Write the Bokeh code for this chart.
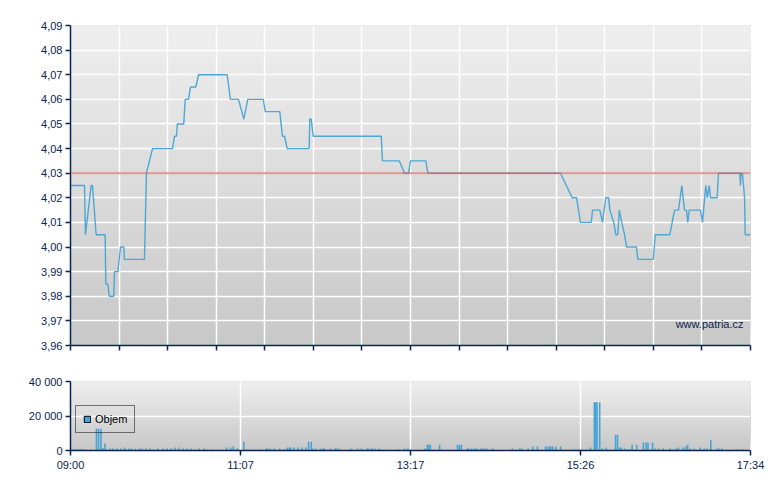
import numpy as np
from bokeh.plotting import figure
from bokeh.models import (Range1d, FixedTicker, Span, BoxAnnotation, CustomJSTickFormatter,
                          Label, Legend, LegendItem, ColumnDataSource)
from bokeh.layouts import column
from bokeh.embed import file_html
from bokeh.resources import INLINE

# ---------------- data ----------------
# minutes since 09:00
time_start, time_end = 0, 514
time_labels = ["09:00", "11:07", "13:17", "15:26", "17:34"]
reference_price = 4.03
price_ticks = [3.96, 3.97, 3.98, 3.99, 4.00, 4.01, 4.02, 4.03, 4.04, 4.05, 4.06, 4.07, 4.08, 4.09]
volume_ticks = [0, 20000, 40000]

price_minutes = [0, 10.6, 11.3, 15.6, 16.6, 19.4, 26.2, 26.7, 28.2, 29.3, 32.7, 33.3, 35.8, 37.8,
                 40.3, 40.8, 55.9, 57.4, 62.0, 77.1, 78.6, 80.1, 80.7, 85.6, 86.7, 89.2, 90.7,
                 94.7, 96.8, 118.4, 120.9, 127.0, 131.0, 134.0, 145.7, 147.2, 158.2, 160.2, 161.8,
                 163.8, 180.4, 180.9, 181.9, 183.5, 234.9, 235.8, 248.5, 252.5, 255.5, 257.0,
                 268.6, 270.1, 370.4, 379.2, 382.5, 385.5, 393.6, 394.6, 400.1, 402.1, 404.6,
                 406.7, 407.7, 410.7, 412.2, 413.7, 414.8, 416.7, 418.8, 420.3, 427.8, 428.8,
                 440.5, 442.0, 453.0, 456.6, 459.6, 462.1, 464.1, 465.6, 466.6, 467.7, 476.2,
                 477.7, 480.2, 481.3, 482.8, 483.8, 488.8, 489.8, 505.9, 506.4, 506.9, 507.9,
                 509.5, 510.0, 514]
price_values = [4.025, 4.025, 4.005, 4.025, 4.025, 4.005, 4.005, 3.985, 3.985, 3.98, 3.98, 3.99, 3.99, 4.00,
                4.00, 3.995, 3.995, 4.03, 4.04, 4.04, 4.045, 4.045, 4.05, 4.05, 4.06, 4.06, 4.065,
                4.065, 4.07, 4.07, 4.06, 4.06, 4.052, 4.06, 4.06, 4.055, 4.055, 4.045, 4.045,
                4.04, 4.04, 4.052, 4.052, 4.045, 4.045, 4.035, 4.035, 4.03, 4.03, 4.035,
                4.035, 4.03, 4.03, 4.02, 4.02, 4.01, 4.01, 4.015, 4.015, 4.01, 4.02,
                4.02, 4.015, 4.01, 4.005, 4.005, 4.015, 4.01, 4.005, 4.00, 4.00, 3.995,
                3.995, 4.005, 4.005, 4.015, 4.015, 4.025, 4.015, 4.015, 4.01, 4.015, 4.015,
                4.01, 4.025, 4.02, 4.025, 4.02, 4.02, 4.03, 4.03, 4.025, 4.03, 4.03,
                4.02, 4.005, 4.005]

volume_minutes = [0, 1, 2, 3, 4, 5, 6, 7, 8, 9, 10, 11, 15, 19.6, 21.2, 23, 24.5, 26, 27, 30, 32, 35,
                  38, 41, 44, 46, 49, 52, 54, 57, 60, 63, 66, 70, 73, 76, 79, 82, 85, 88, 91, 94, 97,
                  101, 103, 107, 112, 118, 121, 123, 126,
                  131, 134, 137.5, 139.5, 143, 145, 148, 149, 151, 154, 158, 161, 162, 164, 165.5,
                  166.5, 169, 172, 175, 178, 180, 182, 183, 185, 189, 191, 192, 196.5, 200, 201, 203,
                  212, 217, 220, 224, 225, 227, 228, 230, 233, 235, 240, 247, 248, 252.5, 255,
                  257, 268, 269.7, 270.7, 272, 279, 292.5, 294, 295.5, 300, 301, 303, 305, 306, 307.5,
                  310, 311.5, 313, 314.5, 319, 334, 339.5, 341, 346, 349.5, 353, 359, 360.5, 362, 363,
                  364.5, 367, 370.5, 379.5, 381, 382.5, 384.5,
                  386, 388, 390.5, 393, 396, 397, 398, 400, 402, 405, 410, 412, 413.5, 415, 416.5, 419,
                  421, 423, 424.5, 428, 433, 435, 436.5, 440, 442, 444.5, 448, 453, 455, 457.5, 459.5,
                  463, 465, 466.5, 468.5, 471.5, 476, 479, 481, 484, 489, 490.5, 492.5, 501, 503.5,
                  506, 508.5]
volume_values = [600, 600, 600, 600, 600, 600, 600, 600, 600, 600, 600, 600, 500, 12600, 12600, 12600,
                 1500, 4000, 500, 1100, 1100, 1100, 1100, 1700, 1100, 1100, 1000, 1100, 1100, 1100,
                 1100, 600, 1100, 1100, 1100, 1100, 1700, 1700, 1100, 1100, 1100, 600, 1100, 1100,
                 600, 600, 600, 1700, 1700, 2300, 1100,
                 5100, 600, 600, 600, 600, 600, 1100, 1100, 1100, 1100, 1100, 600, 600, 1700, 1700,
                 1700, 1700, 1700, 1700, 1700, 5100, 5100, 1100, 1100, 1100, 1100, 1100, 1100, 1100,
                 1100, 1100, 1100, 1100, 1100, 1100, 1100, 1100, 1100, 1100, 1100, 600, 600, 600,
                 600, 1100, 1100,
                 600, 1100, 3400, 3400, 3400, 3400, 3400, 3400, 3400, 1100, 1100, 1100, 1100, 1100,
                 1100, 1100, 1100, 1100, 1100, 1100, 1100, 1100, 1100, 1100, 2300, 2300, 2300, 2300,
                 2300, 2300, 2300, 2300, 2300, 600, 600, 600, 600,
                 600, 600, 600, 1700, 28000, 28000, 28000, 28000, 1100, 1700, 600, 9100, 9100, 1700,
                 1700, 1100, 600, 600, 3400, 3400, 4600, 4600, 4600, 4600, 1100, 1100, 1100, 1100,
                 600, 1100, 1700, 1700, 2300, 3400, 1100, 1100, 1700, 1100, 1100, 6300, 1100, 1100,
                 1100, 600, 600, 600, 600]

# ---------------- style ----------------
NAVY = "#0c2452"
BLUE = "#47a3d5"
FONT = "Liberation Sans"
TOP_GRAY = (239, 239, 239)
BOTTOM_GRAY = (200, 200, 200)


def add_gradient(p, y0, y1, n=48):
    for i in range(n):
        t = i / n
        c = tuple(int(round(BOTTOM_GRAY[k] + (TOP_GRAY[k] - BOTTOM_GRAY[k]) * t)) for k in range(3))
        p.add_layout(BoxAnnotation(bottom=y0 + (y1 - y0) * t, top=y1,
                                   fill_color="#%02x%02x%02x" % c, fill_alpha=1.0,
                                   line_color=None, level="image"))


def style_axes(p):
    for ax in (p.xaxis[0], p.yaxis[0]):
        ax.axis_line_color = NAVY
        ax.axis_line_width = 1.5
        ax.major_tick_line_color = NAVY
        ax.major_tick_line_width = 1.5
        ax.major_tick_out = 5
        ax.major_tick_in = 0
        ax.minor_tick_line_color = None
        ax.major_label_text_color = NAVY
        ax.major_label_text_font = FONT
        ax.major_label_text_font_size = "11px"
    p.grid.grid_line_color = "white"
    p.grid.grid_line_width = 1.5
    p.grid.level = "underlay"
    p.outline_line_color = None


x_fine_ticks = list(np.linspace(time_start, time_end, 15))
x_quarter_ticks = list(np.linspace(time_start, time_end, len(time_labels)))

# ---------------- price chart ----------------
p1 = figure(width=772, height=355, x_range=Range1d(time_start, time_end),
            y_range=Range1d(price_ticks[0], price_ticks[-1]),
            output_backend="svg", toolbar_location=None,
            min_border_left=70, min_border_right=22, min_border_top=25, min_border_bottom=10)
add_gradient(p1, price_ticks[0], price_ticks[-1])
style_axes(p1)
p1.xaxis.ticker = FixedTicker(ticks=x_fine_ticks)
p1.xgrid.ticker = FixedTicker(ticks=x_fine_ticks)
p1.xaxis.major_label_text_font_size = "0px"
p1.xaxis.major_label_text_color = None
p1.xaxis.major_label_standoff = 0
p1.yaxis.ticker = FixedTicker(ticks=price_ticks)
p1.ygrid.ticker = FixedTicker(ticks=price_ticks)
p1.yaxis.major_label_standoff = 3
p1.yaxis.formatter = CustomJSTickFormatter(code="return tick.toFixed(2).replace('.', ',');")

p1.add_layout(Span(location=reference_price, dimension="width", line_color="#d65c5c",
                   line_alpha=0.65, line_width=2))
p1.line(price_minutes, price_values, line_color=BLUE, line_width=1.4, line_alpha=0.95)
p1.add_layout(Label(x=673, y=16, x_units="screen", y_units="screen", text="www.patria.cz",
                    text_align="right", text_baseline="bottom", text_font=FONT,
                    text_font_size="11px", text_color=NAVY))

# ---------------- volume chart ----------------
p2 = figure(width=772, height=120, x_range=Range1d(time_start, time_end),
            y_range=Range1d(volume_ticks[0], volume_ticks[-1]),
            output_backend="svg", toolbar_location=None,
            min_border_left=70, min_border_right=22, min_border_top=26, min_border_bottom=25)
add_gradient(p2, volume_ticks[0], volume_ticks[-1], n=24)
style_axes(p2)
p2.xaxis.ticker = FixedTicker(ticks=x_quarter_ticks)
p2.xgrid.ticker = FixedTicker(ticks=x_quarter_ticks)
p2.xaxis.major_label_overrides = {t: lab for t, lab in zip(x_quarter_ticks, time_labels)}
p2.xaxis.major_label_standoff = 3
p2.yaxis.ticker = FixedTicker(ticks=volume_ticks)
p2.ygrid.ticker = FixedTicker(ticks=volume_ticks)
p2.yaxis.major_label_standoff = 3
p2.yaxis.formatter = CustomJSTickFormatter(
    code=r"return Math.round(tick).toString().replace(/\B(?=(\d{3})+(?!\d))/g, ' ');")

p2.vbar(x=volume_minutes, top=volume_values, bottom=0, width=1.2,
        fill_color=BLUE, line_color=None)
# legend-only renderer, placed outside the visible range
legend_src = ColumnDataSource(data=dict(x=[-100], top=[1]))
dummy = p2.vbar(x="x", top="top", width=1, source=legend_src,
                fill_color=BLUE, line_color="black", line_width=1)
legend = Legend(items=[LegendItem(label="Objem", renderers=[dummy])], location=(5, 17),
                background_fill_alpha=0, border_line_color="black", border_line_width=1,
                glyph_width=8, glyph_height=8, label_height=12, label_standoff=4,
                padding=7, margin=0, label_text_font=FONT, label_text_font_size="11px",
                label_text_color="black")
p2.add_layout(legend, "center")

layout = column(p1, p2, spacing=0)
open("out.html", "w").write(file_html(layout, INLINE))
